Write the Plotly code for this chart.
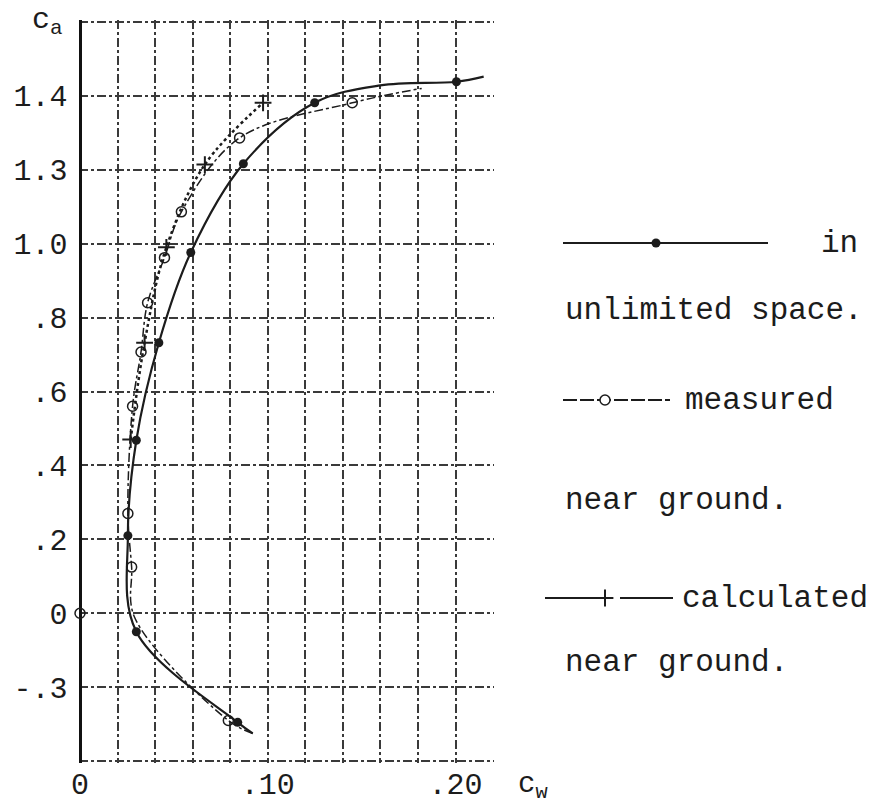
import plotly.graph_objects as go

# ---- data (c_w, c_a) ----
cw_unlimited = [0.084, 0.030, 0.0255, 0.030, 0.042, 0.059, 0.087, 0.125, 0.2005]
ca_unlimited = [-0.295, -0.05, 0.21, 0.468, 0.732, 0.976, 1.216, 1.381, 1.438]
# extra points of the drawn curve (no marker)
cw_unlimited_curve = [0.092, 0.160, 0.215]
ca_unlimited_curve = [-0.325, 1.428, 1.452]

cw_measured = [0.079, 0.0275, 0.0255, 0.028, 0.0325, 0.036, 0.045, 0.054, 0.085, 0.145]
ca_measured = [-0.29, 0.125, 0.27, 0.56, 0.707, 0.84, 0.962, 1.086, 1.286, 1.381]
cw_measured_curve = [0.092, 0.029, 0.182]
ca_measured_curve = [-0.325, -0.01, 1.42]

cw_calculated = [0.027, 0.0344, 0.046, 0.0665, 0.0975]
ca_calculated = [0.47, 0.732, 0.99, 1.214, 1.381]

cw_origin = [0.0]
ca_origin = [0.0]

x_tick_vals = [0, 0.10, 0.20]
x_tick_text = ["0", ".10", ".20"]
y_tick_vals = [-0.2, 0, 0.2, 0.4, 0.6, 0.8, 1.0, 1.2, 1.4]
y_tick_text = ["-.3", "0", ".2", ".4", ".6", ".8", "1.0", "1.3", "1.4"]

legend_lines = ["in", "unlimited space.", "measured", "near ground.", "calculated", "near ground."]

INK = "#1c1c1c"
GRID = "#3a3a3a"
FONT = "Liberation Mono"


def curve(xs, ys, xe, ye):
    pts = sorted(zip(list(xs) + list(xe), list(ys) + list(ye)), key=lambda p: p[1])
    return [p[0] for p in pts], [p[1] for p in pts]


fig = go.Figure()

ux, uy = curve(cw_unlimited, ca_unlimited, cw_unlimited_curve, ca_unlimited_curve)
mx, my = curve(cw_measured, ca_measured, cw_measured_curve, ca_measured_curve)

fig.add_trace(go.Scatter(x=ux, y=uy, mode="lines", line=dict(color=INK, width=2.2, shape="spline", smoothing=1.0),
                         hoverinfo="skip", showlegend=False))
fig.add_trace(go.Scatter(x=mx, y=my, mode="lines", line=dict(color=INK, width=1.5, dash="dashdot", shape="spline", smoothing=1.0),
                         hoverinfo="skip", showlegend=False))
fig.add_trace(go.Scatter(x=cw_calculated, y=ca_calculated, mode="lines", line=dict(color=INK, width=2.5, dash="dot", shape="spline"),
                         hoverinfo="skip", showlegend=False))

fig.add_trace(go.Scatter(x=cw_unlimited, y=ca_unlimited, mode="markers", cliponaxis=False,
                         marker=dict(symbol="circle", size=9, color=INK), showlegend=False))
fig.add_trace(go.Scatter(x=cw_measured + cw_origin, y=ca_measured + ca_origin, mode="markers", cliponaxis=False,
                         marker=dict(symbol="circle-open", size=10, color=INK, line=dict(width=1.5, color=INK)), showlegend=False))
fig.add_trace(go.Scatter(x=cw_calculated, y=ca_calculated, mode="markers", cliponaxis=False,
                         marker=dict(symbol="cross-thin-open", size=12, color=INK, line=dict(width=2, color=INK)), showlegend=False))

# ---- legend drawn in a pixel-like overlay subplot ----
ov = dict(xaxis="x2", yaxis="y2", hoverinfo="skip", showlegend=False)
fig.add_trace(go.Scatter(x=[563, 768], y=[243, 243], mode="lines", line=dict(color=INK, width=2), **ov))
fig.add_trace(go.Scatter(x=[656], y=[243], mode="markers", marker=dict(symbol="circle", size=9, color=INK), **ov))
fig.add_trace(go.Scatter(x=[563, 670], y=[400, 400], mode="lines", line=dict(color=INK, width=1.8, dash="14px,3px"), **ov))
fig.add_trace(go.Scatter(x=[605], y=[400], mode="markers",
                         marker=dict(symbol="circle", size=10, color="white", line=dict(width=1.5, color=INK)), **ov))
fig.add_trace(go.Scatter(x=[545, 598, None, 620, 673], y=[598, 598, None, 598, 598], mode="lines",
                         line=dict(color=INK, width=1.8), **ov))
fig.add_trace(go.Scatter(x=[605], y=[598], mode="markers",
                         marker=dict(symbol="cross-thin-open", size=12, color=INK, line=dict(width=2, color=INK)), **ov))

leg_pos = [(819, 243), (563, 310), (683, 400), (563, 500), (680, 598), (563, 662)]
annotations = []
for txt, (lx, ly) in zip(legend_lines, leg_pos):
    annotations.append(dict(x=lx, y=ly, xref="x2", yref="y2", text=txt, showarrow=False,
                            xanchor="left", yanchor="middle", font=dict(family=FONT, size=31, color=INK)))
annotations.append(dict(x=30 / 878, y=1 - 21 / 808, xref="paper", yref="paper", text="c<sub>a</sub>", showarrow=False,
                        xanchor="left", yanchor="middle", font=dict(family=FONT, size=30, color=INK)))
annotations.append(dict(x=516 / 878, y=1 - 786 / 808, xref="paper", yref="paper", text="c<sub>w</sub>", showarrow=False,
                        xanchor="left", yanchor="middle", font=dict(family=FONT, size=29, color=INK)))

grid_common = dict(gridcolor=GRID, griddash="dashdot", gridwidth=1.6)

fig.update_layout(
    width=878, height=808,
    margin=dict(l=0, r=0, t=0, b=0, autoexpand=False),
    paper_bgcolor="white", plot_bgcolor="rgba(0,0,0,0)",
    showlegend=False,
    annotations=annotations,
    xaxis=dict(domain=[78.5 / 878, 494 / 878], range=[-0.0008, 0.2205], automargin=False,
               tickmode="array", tickvals=x_tick_vals, ticktext=x_tick_text,
               showgrid=True, **grid_common,
               minor=dict(dtick=0.02, tick0=0, showgrid=True, **grid_common),
               zeroline=True, zerolinecolor="#111111", zerolinewidth=2.6,
               ticks="", showline=False, ticklabelstandoff=0,
               tickfont=dict(family=FONT, size=30, color=INK), fixedrange=True),
    yaxis=dict(domain=[45 / 808, 788 / 808], range=[-0.405, 1.605], automargin=False,
               tickmode="array", tickvals=y_tick_vals, ticktext=y_tick_text,
               showgrid=True, **grid_common,
               minor=dict(dtick=0.2, tick0=0, showgrid=True, **grid_common),
               zeroline=False,
               ticks="", showline=False, ticklabelstandoff=10,
               tickfont=dict(family=FONT, size=30, color=INK), fixedrange=True),
    xaxis2=dict(domain=[0.6, 1.0], range=[0.6 * 878, 878], anchor="y2", visible=False, fixedrange=True, automargin=False),
    yaxis2=dict(domain=[0, 1], range=[808, 0], anchor="x2", visible=False, fixedrange=True, automargin=False),
)

fig.write_html("out.html", config={"displayModeBar": False},
               post_script="document.body.style.margin='0';document.body.style.overflow='hidden';")
